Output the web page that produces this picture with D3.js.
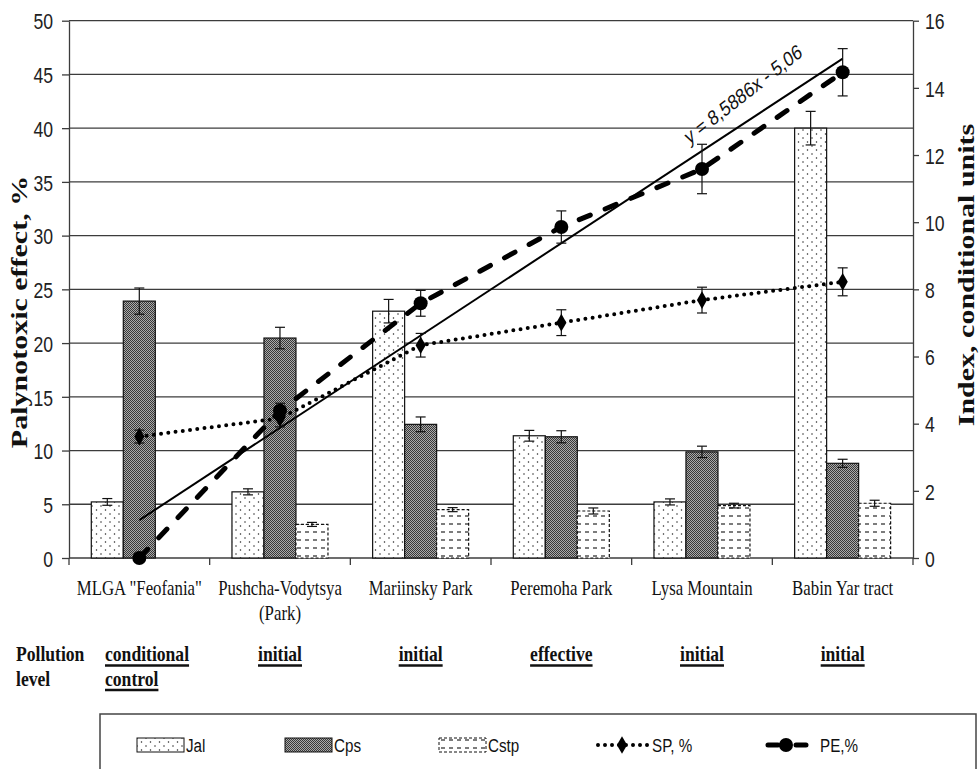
<!DOCTYPE html>
<html>
<head>
<meta charset="utf-8">
<script src="https://cdn.jsdelivr.net/npm/d3@7"></script>
<style>
  body { margin: 0; background: #fff; }
  svg { display: block; }
</style>
</head>
<body>
<script>
// sites and their pollution level
let categories = ['MLGA  "Feofania"', 'Pushcha-Vodytsya (Park)', 'Mariinsky Park', 'Peremoha Park', 'Lysa Mountain', 'Babin Yar tract'];
let catLines = [['MLGA  "Feofania"'], ['Pushcha-Vodytsya', '(Park)'], ['Mariinsky Park'], ['Peremoha Park'], ['Lysa Mountain'], ['Babin Yar tract']];
let pollution = [['conditional', 'control'], ['initial'], ['initial'], ['effective'], ['initial'], ['initial']];

// indices, conditional units (right axis)
let jal = [1.67, 1.97, 7.35, 3.64, 1.67, 12.8];
let jalErr = [0.1, 0.09, 0.35, 0.16, 0.09, 0.5];
let cps = [7.65, 6.55, 3.98, 3.61, 3.16, 2.82];
let cpsErr = [0.39, 0.32, 0.22, 0.18, 0.17, 0.12];
let cstp = [0, 1.0, 1.44, 1.40, 1.56, 1.63];
let cstpErr = [0, 0.06, 0.06, 0.09, 0.07, 0.09];

// percentages (left axis)
let sp = [11.3, 13.0, 19.8, 21.9, 24.0, 25.7];
let spErr = [0.6, 0.8, 1.1, 1.2, 1.2, 1.3];
let pe = [0, 13.7, 23.7, 30.8, 36.2, 45.2];
let peErr = [0, 0.7, 1.2, 1.5, 2.3, 2.2];

// linear trend of PE
let trendSlope = 8.5886, trendIntercept = -5.06;
let trendLabel = "y = 8,5886x - 5,06";

let leftTicks = d3.range(0, 51, 5);
let rightTicks = d3.range(0, 17, 2);

const W = 979, H = 769;
const pLeft = 69, pRight = 913, pTop = 20.7, pBase = 558;
const SQ = 0.8;   // the picture is squeezed sideways, text too

let svg = d3.select("body").append("svg").attr("width", W).attr("height", H);
svg.append("rect").attr("width", W).attr("height", H).attr("fill", "#fff");

let defs = svg.append("defs");
let pj = defs.append("pattern").attr("id", "pJal").attr("patternUnits", "userSpaceOnUse").attr("width", 9).attr("height", 8);
pj.append("rect").attr("width", 9).attr("height", 8).attr("fill", "#fff");
pj.append("circle").attr("cx", 2).attr("cy", 2).attr("r", 0.75).attr("fill", "#222");
pj.append("circle").attr("cx", 6.5).attr("cy", 6).attr("r", 0.75).attr("fill", "#222");
let pc = defs.append("pattern").attr("id", "pCps").attr("patternUnits", "userSpaceOnUse").attr("width", 2).attr("height", 2);
pc.append("rect").attr("width", 2).attr("height", 2).attr("fill", "#aaa");
pc.append("rect").attr("width", 1).attr("height", 1).attr("fill", "#383838");
pc.append("rect").attr("x", 1).attr("y", 1).attr("width", 1).attr("height", 1).attr("fill", "#383838");
let ps = defs.append("pattern").attr("id", "pCstp").attr("patternUnits", "userSpaceOnUse").attr("width", 8).attr("height", 8);
ps.append("rect").attr("width", 8).attr("height", 8).attr("fill", "#fff");
ps.append("line").attr("x1", 1).attr("x2", 5).attr("y1", 4).attr("y2", 4).attr("stroke", "#111").attr("stroke-width", 1.1);

let x = d3.scaleBand().domain(categories).range([pLeft, pRight]);
let inner = d3.scaleBand().domain(["Jal", "Cps", "Cstp"]).range([22.3, 118.3]);
let yL = d3.scaleLinear().domain([0, 50]).range([pBase, pTop]);
let yR = d3.scaleLinear().domain([0, 16]).range([pBase, pTop]);
let cx = i => x(categories[i]) + x.bandwidth() / 2;

function squeeze(sel, px, py, rot) {
    sel.attr("transform", `translate(${px},${py}) scale(${SQ},1)` + (rot ? ` rotate(${rot})` : ""));
    return sel;
}

// gridlines
svg.append("g").selectAll("line").data(leftTicks.filter(d => d > 0)).enter().append("line")
    .attr("x1", pLeft).attr("x2", pRight).attr("y1", d => yL(d)).attr("y2", d => yL(d))
    .attr("stroke", "#3c3c3c").attr("stroke-width", 1.3);

// left axis
let gL = svg.append("g").attr("transform", `translate(${pLeft},0)`)
    .call(d3.axisLeft(yL).tickValues(leftTicks).tickSize(7).tickSizeOuter(0).tickFormat(""));
gL.selectAll("line, path").attr("stroke", "#3c3c3c").attr("stroke-width", 1.3);
svg.append("g").selectAll("text").data(leftTicks).enter().append("text")
    .text(d => d).attr("text-anchor", "end").attr("dominant-baseline", "central")
    .attr("font-family", "Liberation Sans, Arial, sans-serif").attr("font-size", 22).attr("fill", "#222")
    .each(function (d) { squeeze(d3.select(this), 53, yL(d) + 1); });

// right axis
let gR = svg.append("g").attr("transform", `translate(${pRight},0)`)
    .call(d3.axisRight(yR).tickValues(rightTicks).tickSize(6).tickSizeOuter(0).tickFormat(""));
gR.selectAll("line, path").attr("stroke", "#3c3c3c").attr("stroke-width", 1.3);
svg.append("g").selectAll("text").data(rightTicks).enter().append("text")
    .text(d => d).attr("text-anchor", "start").attr("dominant-baseline", "central")
    .attr("font-family", "Liberation Sans, Arial, sans-serif").attr("font-size", 22).attr("fill", "#222")
    .each(function (d) { squeeze(d3.select(this), 925, yR(d) + 1); });

// bottom axis with ticks between sites
let bounds = categories.map(c => x(c)).concat([pRight]);
svg.append("line").attr("x1", pLeft).attr("x2", pRight).attr("y1", pBase).attr("y2", pBase)
    .attr("stroke", "#3c3c3c").attr("stroke-width", 1.3);
svg.append("g").selectAll("line").data(bounds).enter().append("line")
    .attr("x1", d => d).attr("x2", d => d).attr("y1", pBase).attr("y2", pBase + 7)
    .attr("stroke", "#3c3c3c").attr("stroke-width", 1.3);

// category labels
catLines.forEach((lines, i) => {
    lines.forEach((t, k) => {
        let tx = svg.append("text").text(t).attr("text-anchor", "middle")
            .attr("font-family", "Liberation Serif, Times New Roman, serif").attr("font-size", 21).attr("fill", "#111");
        squeeze(tx, cx(i), 595 + k * 25);
    });
});

// bars
let series = [
    { key: "Jal", vals: jal, err: jalErr, fill: "url(#pJal)", dash: null },
    { key: "Cps", vals: cps, err: cpsErr, fill: "url(#pCps)", dash: null },
    { key: "Cstp", vals: cstp, err: cstpErr, fill: "url(#pCstp)", dash: "3 2" }
];
series.forEach(s => {
    let g = svg.append("g");
    g.selectAll("rect").data(s.vals.map((v, i) => ({ v, i })).filter(d => d.v > 0)).enter().append("rect")
        .attr("x", d => x(categories[d.i]) + inner(s.key))
        .attr("width", inner.bandwidth())
        .attr("y", d => yR(d.v))
        .attr("height", d => pBase - yR(d.v))
        .attr("fill", s.fill).attr("stroke", "#111").attr("stroke-width", 1.2)
        .attr("stroke-dasharray", s.dash);
});
// bar error bars
series.forEach(s => {
    let g = svg.append("g").attr("stroke", "#111").attr("stroke-width", 1.2);
    s.vals.forEach((v, i) => {
        if (!s.err[i]) return;
        let bx = x(categories[i]) + inner(s.key) + inner.bandwidth() / 2;
        let y1 = yR(v + s.err[i]), y2 = yR(v - s.err[i]);
        g.append("line").attr("x1", bx).attr("x2", bx).attr("y1", y1).attr("y2", y2);
        g.append("line").attr("x1", bx - 5).attr("x2", bx + 5).attr("y1", y1).attr("y2", y1);
        g.append("line").attr("x1", bx - 5).attr("x2", bx + 5).attr("y1", y2).attr("y2", y2);
    });
});

// trend line of PE
let tx1 = 1, tx2 = 6;
svg.append("line")
    .attr("x1", cx(0)).attr("y1", yL(trendSlope * tx1 + trendIntercept))
    .attr("x2", cx(5)).attr("y2", yL(trendSlope * tx2 + trendIntercept))
    .attr("stroke", "#000").attr("stroke-width", 2);
let tl = svg.append("text").text(trendLabel)
    .attr("font-family", "Liberation Sans, Arial, sans-serif").attr("font-size", 21).attr("fill", "#111");
squeeze(tl, 689, 145, -32);

// SP and PE lines
let lineL = d3.line().x((d, i) => cx(i)).y(d => yL(d));
svg.append("path").attr("d", lineL(sp)).attr("fill", "none").attr("stroke", "#000")
    .attr("stroke-width", 4).attr("stroke-dasharray", "0 7.3").attr("stroke-linecap", "round");
svg.append("path").attr("d", lineL(pe)).attr("fill", "none").attr("stroke", "#000")
    .attr("stroke-width", 5).attr("stroke-dasharray", "12 16").attr("stroke-linecap", "round");

function pointErr(vals, errs) {
    let g = svg.append("g").attr("stroke", "#111").attr("stroke-width", 1.2);
    vals.forEach((v, i) => {
        if (!errs[i]) return;
        let y1 = yL(v + errs[i]), y2 = yL(v - errs[i]);
        g.append("line").attr("x1", cx(i)).attr("x2", cx(i)).attr("y1", y1).attr("y2", y2);
        g.append("line").attr("x1", cx(i) - 5).attr("x2", cx(i) + 5).attr("y1", y1).attr("y2", y1);
        g.append("line").attr("x1", cx(i) - 5).attr("x2", cx(i) + 5).attr("y1", y2).attr("y2", y2);
    });
}
pointErr(sp, spErr);
pointErr(pe, peErr);

let diamond = d3.symbol().type(d3.symbolDiamond).size(90);
svg.append("g").selectAll("path").data(sp).enter().append("path")
    .attr("d", diamond).attr("transform", (d, i) => `translate(${cx(i)},${yL(d)})`).attr("fill", "#000");
svg.append("g").selectAll("circle").data(pe).enter().append("circle")
    .attr("cx", (d, i) => cx(i)).attr("cy", d => yL(d)).attr("r", 7).attr("fill", "#000");

// axis titles
let t1 = svg.append("text").text("Palynotoxic effect, %").attr("text-anchor", "middle")
    .attr("font-family", "Liberation Serif, Times New Roman, serif").attr("font-weight", "bold")
    .attr("font-size", 30).attr("fill", "#111");
squeeze(t1, 27, 312, -90);
let t2 = svg.append("text").text("Index, conditional units").attr("text-anchor", "middle")
    .attr("font-family", "Liberation Serif, Times New Roman, serif").attr("font-weight", "bold")
    .attr("font-size", 30).attr("fill", "#111");
squeeze(t2, 974, 275, -90);

// pollution level row
let pfont = "Liberation Serif, Times New Roman, serif";
let rowY = 661, rowStep = 24.5;
["Pollution", "level"].forEach((t, k) => {
    let e = svg.append("text").text(t).attr("font-family", pfont).attr("font-weight", "bold")
        .attr("font-size", 22).attr("fill", "#111");
    squeeze(e, 16, rowY + k * rowStep);
});
pollution.forEach((lines, i) => {
    lines.forEach((t, k) => {
        let anchor = i === 0 ? "start" : "middle";
        let px = i === 0 ? 105 : cx(i);
        let py = rowY + k * rowStep;
        let e = svg.append("text").text(t).attr("text-anchor", anchor).attr("font-family", pfont)
            .attr("font-weight", "bold").attr("font-size", 22).attr("fill", "#111");
        squeeze(e, px, py);
        let w = e.node().getComputedTextLength() * SQ;
        let ux = anchor === "start" ? px : px - w / 2;
        svg.append("line").attr("x1", ux).attr("x2", ux + w).attr("y1", py + 4.5).attr("y2", py + 4.5)
            .attr("stroke", "#111").attr("stroke-width", 2.5);
    });
});

// legend
svg.append("rect").attr("x", 100).attr("y", 714).attr("width", 876).attr("height", 80)
    .attr("fill", "none").attr("stroke", "#444").attr("stroke-width", 1.5);
let legFont = "Liberation Sans, Arial, sans-serif";
let legY = 745;
series.forEach((s, k) => {
    let lx = [137, 285, 439][k];
    svg.append("rect").attr("x", lx).attr("y", legY - 7).attr("width", 47).attr("height", 14)
        .attr("fill", s.fill).attr("stroke", "#111").attr("stroke-width", 1).attr("stroke-dasharray", s.dash);
    let e = svg.append("text").text(s.key).attr("font-family", legFont).attr("font-size", 19)
        .attr("dominant-baseline", "central").attr("fill", "#111");
    squeeze(e, lx + 49, legY);
});
svg.append("line").attr("x1", 598).attr("x2", 648).attr("y1", legY).attr("y2", legY)
    .attr("stroke", "#000").attr("stroke-width", 4).attr("stroke-dasharray", "0 7").attr("stroke-linecap", "round");
svg.append("path").attr("d", diamond).attr("transform", `translate(622,${legY})`).attr("fill", "#000");
squeeze(svg.append("text").text("SP, %").attr("font-family", legFont).attr("font-size", 19)
    .attr("dominant-baseline", "central").attr("fill", "#111"), 652, legY);
svg.append("line").attr("x1", 768).attr("x2", 806).attr("y1", legY).attr("y2", legY)
    .attr("stroke", "#000").attr("stroke-width", 5).attr("stroke-dasharray", "10 18").attr("stroke-linecap", "round");
svg.append("circle").attr("cx", 786).attr("cy", legY).attr("r", 7).attr("fill", "#000");
squeeze(svg.append("text").text("PE,%").attr("font-family", legFont).attr("font-size", 19)
    .attr("dominant-baseline", "central").attr("fill", "#111"), 820, legY);
</script>
</body>
</html>
